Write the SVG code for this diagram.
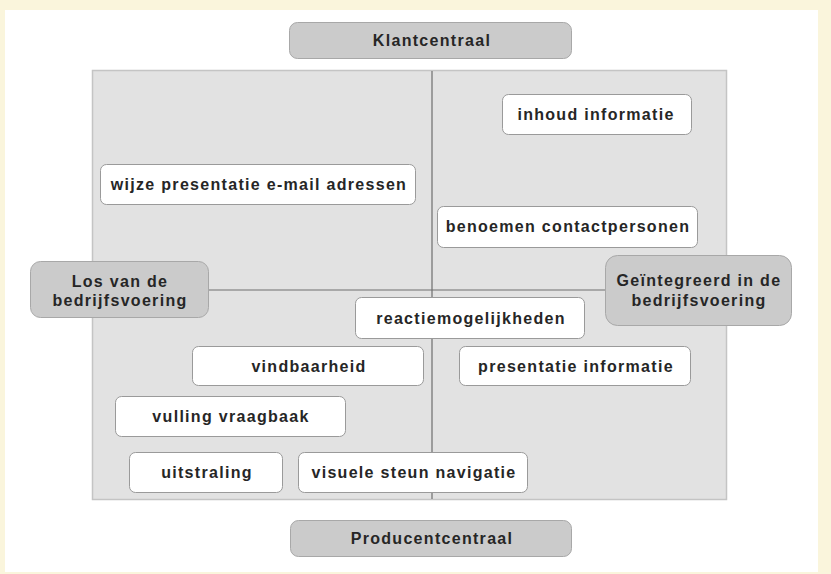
<svg xmlns="http://www.w3.org/2000/svg" width="831" height="574" viewBox="0 0 831 574">
<style>
text{font-family:"Liberation Sans",Arial,sans-serif;font-weight:bold;font-size:16px;letter-spacing:1.3px;fill:#262626;text-anchor:middle}
.w{fill:#fff;stroke:#9a9a9a;stroke-width:1}
.g{fill:#cbcbcb;stroke:#a8a8a8;stroke-width:1}
.ax{stroke:#6e6e6e;stroke-width:1.2;fill:none}
</style>
<rect x="0" y="0" width="831" height="574" fill="#faf5dc"/>
<rect x="5" y="10" width="813" height="562" fill="#fff"/>
<rect id="panel" x="92.5" y="70.5" width="634" height="429" fill="#e2e2e2" stroke="#c4c4c4" stroke-width="1.5"/>
<g id="connectors">
<line class="ax" x1="432" y1="71" x2="432" y2="499"/>
<line class="ax" x1="205" y1="290" x2="607" y2="290"/>
</g>
<g id="klantcentraal"><rect class="g" x="289.5" y="22.5" width="282" height="36" rx="8"/><text x="432" y="46">Klantcentraal</text></g>
<g id="producentcentraal"><rect class="g" x="290.5" y="520.5" width="281" height="36" rx="8"/><text x="432" y="544">Producentcentraal</text></g>
<g id="los"><rect class="g" x="30.5" y="261.5" width="178" height="56" rx="10"/><text x="120" y="287">Los van de</text><text x="120" y="306">bedrijfsvoering</text></g>
<g id="geintegreerd"><rect class="g" x="605.5" y="255.5" width="186" height="70" rx="12"/><text x="699" y="286">Geïntegreerd in de</text><text x="699" y="306">bedrijfsvoering</text></g>
<g id="inhoud"><rect class="w" x="502.5" y="94.5" width="189" height="40" rx="6"/><text x="596" y="120">inhoud informatie</text></g>
<g id="wijze"><rect class="w" x="100.5" y="164.5" width="315" height="40" rx="6"/><text x="259" y="190">wijze presentatie e-mail adressen</text></g>
<g id="benoemen"><rect class="w" x="437.5" y="206.5" width="260" height="41" rx="6"/><text x="568" y="232">benoemen contactpersonen</text></g>
<g id="reactie"><rect class="w" x="355.5" y="297.5" width="229" height="41" rx="6"/><text x="471" y="324">reactiemogelijkheden</text></g>
<g id="vindbaarheid"><rect class="w" x="192.5" y="346.5" width="231" height="39" rx="6"/><text x="309" y="372">vindbaarheid</text></g>
<g id="presentatie"><rect class="w" x="459.5" y="346.5" width="231" height="39" rx="6"/><text x="576" y="372">presentatie informatie</text></g>
<g id="vulling"><rect class="w" x="115.5" y="396.5" width="230" height="40" rx="6"/><text x="231" y="422">vulling vraagbaak</text></g>
<g id="uitstraling"><rect class="w" x="129.5" y="452.5" width="153" height="40" rx="6"/><text x="207" y="478">uitstraling</text></g>
<g id="visuele"><rect class="w" x="298.5" y="452.5" width="229" height="40" rx="6"/><text x="414" y="478">visuele steun navigatie</text></g>
</svg>
